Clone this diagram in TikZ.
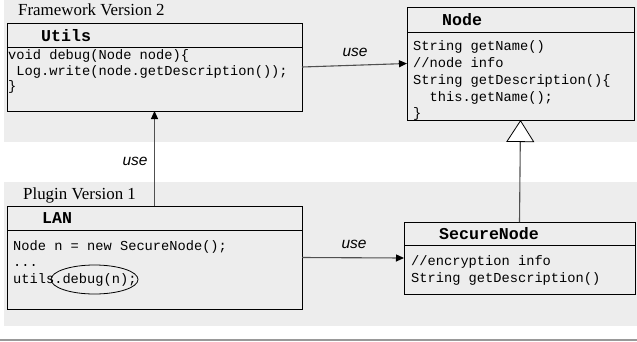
\documentclass[tikz,border=0pt]{standalone}
\usepackage{fontspec}
\setmainfont{Liberation Serif}
\newfontfamily\codefnt{Liberation Mono}
\newfontfamily\sansfnt{Liberation Sans}
\usetikzlibrary{arrows.meta,shapes.geometric}
\definecolor{bg}{HTML}{EDEDED}
\definecolor{conncol}{HTML}{505050}
\begin{document}
\begin{tikzpicture}[x=1pt,y=-1pt,
  region/.style={fill=bg, draw=none},
  box/.style={draw=black, line width=0.9pt, fill=bg, anchor=north west, inner sep=0pt, outer sep=0pt},
  divider/.style={draw=black, line width=0.9pt},
  title/.style={anchor=west, inner sep=0pt, font=\codefnt\bfseries\fontsize{16.6}{18}\selectfont},
  code/.style={anchor=base west, inner sep=0pt, font=\codefnt\fontsize{13.7}{16}\selectfont},
  caption/.style={anchor=base west, inner sep=0pt, font=\fontsize{16.9}{19}\selectfont},
  uselbl/.style={inner sep=0pt, font=\sansfnt\itshape\fontsize{15.5}{17}\selectfont},
  conn/.style={draw=conncol, line width=1.1pt, -{Triangle[length=8pt,width=7pt,color=black]}},
  inherit/.style={draw=conncol, line width=1.1pt, -{Triangle[open,length=22pt,width=28pt,fill=white,color=black,line width=0.8pt]}}
]
\useasboundingbox (0,0) rectangle (637,341);
% background regions
\fill[region] (4,0) rectangle (637,142);
\fill[region] (4,182) rectangle (637,326);
\draw[draw=gray!80, line width=1.2pt] (0,340) -- (637,340);

\node[caption] (fw) at (18,15) {Framework Version 2};
\node[caption] (pl) at (23,199) {Plugin Version 1};

% Utils
\node[box, minimum width=295pt, minimum height=88pt] (utils) at (7,23) {};
\draw[divider] (utils.west |- 0,47.5) -- (utils.east |- 0,47.5);
\node[title] (utilsT) at (41,35.5) {Utils};
\node[code] (u1) at (8,59) {void debug(Node node)\{};
\node[code] (u2) at (8,75) {\hphantom{x}Log.write(node.getDescription());};
\node[code] (u3) at (8,90.5) {\}};

% Node
\node[box, minimum width=227pt, minimum height=113pt] (nodebox) at (407,7) {};
\draw[divider] (nodebox.west |- 0,32) -- (nodebox.east |- 0,32);
\node[title] (nodeT) at (442,19.5) {Node};
\node[code] (n1) at (413,50.5) {String getName()};
\node[code] (n2) at (413,67) {//node info};
\node[code] (n3) at (413,84) {String getDescription()\{};
\node[code] (n4) at (413,101) {\hphantom{xx}this.getName();};
\node[code] (n5) at (413,117.5) {\}};

% SecureNode
\node[box, minimum width=231pt, minimum height=72pt] (secure) at (404,222) {};
\draw[divider] (secure.west |- 0,245) -- (secure.east |- 0,245);
\node[title] (secureT) at (439,233.5) {SecureNode};
\node[code] (s1) at (411,265.5) {//encryption info};
\node[code] (s2) at (411,282.5) {String getDescription()};

% LAN
\node[box, minimum width=295pt, minimum height=103pt] (lan) at (7,206) {};
\draw[divider] (lan.west |- 0,230) -- (lan.east |- 0,230);
\node[title] (lanT) at (42,218) {LAN};
\node[code] (l1) at (13,250.5) {Node n = new SecureNode();};
\node[code] (l2) at (13,266.5) {...};
\node[code] (l3) at (13,283) {utils.debug(n);};
\node[draw=black, line width=0.8pt, ellipse, minimum width=87pt, minimum height=29pt, inner sep=0pt] (circ) at (94.5,279.5) {};

% connectors
\draw[conn] (utils.east) -- (nodebox.west);
\draw[conn] (lan.north) -- (utils.south);
\draw[conn] (lan.east) -- (secure.west);
\draw[inherit] (secure.north) -- (nodebox.south);

\node[uselbl] (use1) at (355,52) {use};
\node[uselbl] (use2) at (135,161) {use};
\node[uselbl] (use3) at (354,244) {use};
\end{tikzpicture}
\end{document}
